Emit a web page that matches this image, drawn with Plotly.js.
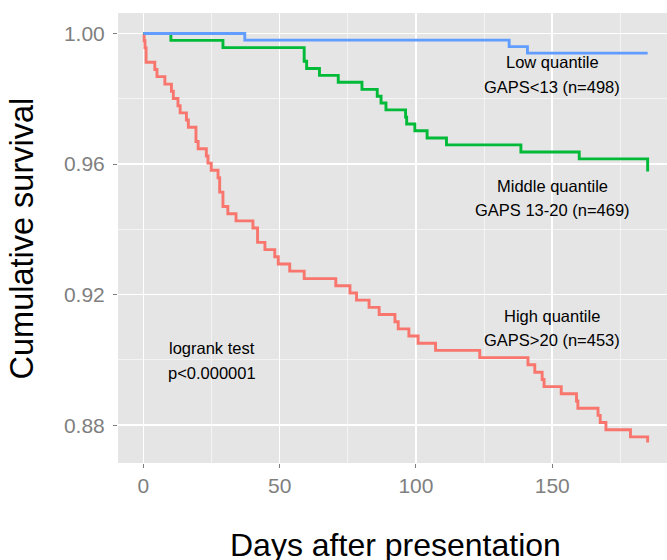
<!DOCTYPE html>
<html>
<head>
<meta charset="utf-8">
<script src="https://cdn.plot.ly/plotly-3.0.1.min.js"></script>
<style>html,body{margin:0;padding:0;background:#fff}#chart{width:667px;height:560px}</style>
</head>
<body>
<div id="chart"></div>
<script>
// High quantile GAPS>20 (n=453)
const highDays = [0, 0.3, 0.6, 1.0, 4.2, 5.0, 7.9, 10.3, 11.0, 12.7, 13.5, 15.8, 16.5,
  19.3, 20.1, 23.1, 23.7, 24.9, 27.4, 28.0, 29.2, 31.0, 34.0, 40.2,
  41.9, 44.6, 48.2, 49.5, 53.7, 59.0, 70.6, 75.8, 78.2, 82.8, 86.5,
  92.3, 93.5, 97.4, 100.8, 107.2, 123.4, 141.1, 143.6, 146.3, 147.0,
  153.3, 158.9, 159.4, 166.8, 167.6, 169.7, 178.7, 185.0];
const highSurv = [1.0, 0.9978, 0.9956, 0.9912, 0.9890, 0.9868, 0.9845, 0.9823, 0.9801, 0.9779, 0.9757, 0.9735, 0.9713,
  0.9669, 0.9647, 0.9625, 0.9603, 0.9581, 0.9558, 0.9514, 0.9470, 0.9448, 0.9426, 0.9404,
  0.9360, 0.9338, 0.9316, 0.9294, 0.9272, 0.9249, 0.9227, 0.9205, 0.9183, 0.9161, 0.9139,
  0.9117, 0.9095, 0.9073, 0.9051, 0.9029, 0.9007, 0.8985, 0.8962, 0.8940, 0.8918,
  0.8896, 0.8874, 0.8852, 0.8830, 0.8808, 0.8786, 0.8764, 0.8747];

// Middle quantile GAPS 13-20 (n=469)
const midDays = [0, 10.1, 29.2, 59.0, 59.9, 64.6, 71.5, 80.2, 85.8, 87.2, 89.0, 96.2, 96.6, 99.6, 104.1, 111.2, 138.5, 159.9, 185.0];
const midSurv = [1.0, 0.9979, 0.9957, 0.9915, 0.9893, 0.9872, 0.9851, 0.9829, 0.9808, 0.9787, 0.9766, 0.9744, 0.9723, 0.9702, 0.9680, 0.9659, 0.9637, 0.9616, 0.9577];

// Low quantile GAPS<13 (n=498)
const lowDays = [0, 37.2, 134.2, 140.9, 185.0];
const lowSurv = [1.0, 0.9980, 0.9960, 0.9940, 0.9940];

const xTickVals = [0, 50, 100, 150];
const xTickText = ['0', '50', '100', '150'];
const yTickVals = [0.88, 0.92, 0.96, 1.00];
const yTickText = ['0.88', '0.92', '0.96', '1.00'];

const FONT = 'Liberation Sans, Arial, sans-serif';

function stepTrace(x, y, color) {
  return {x: x, y: y, type: 'scatter', mode: 'lines',
    line: {shape: 'hv', color: color, width: 2.9}, hoverinfo: 'skip', showlegend: false};
}

const traces = [
  stepTrace(highDays, highSurv, '#F8766D'),
  stepTrace(midDays, midSurv, '#00BA38'),
  stepTrace(lowDays, lowSurv, '#619CFF')
];

function lab(x, y, text) {
  return {x: x, y: y, xref: 'x', yref: 'y', text: text, showarrow: false,
    xanchor: 'center', yanchor: 'middle', font: {family: FONT, size: 16.5, color: '#000'}};
}

const layout = {
  width: 667, height: 560,
  margin: {l: 118, r: 0, t: 12.7, b: 97},
  paper_bgcolor: '#ffffff',
  plot_bgcolor: '#E5E5E5',
  showlegend: false,
  xaxis: {
    range: [-9.3, 192.1], tickvals: xTickVals, ticktext: xTickText,
    showgrid: true, gridcolor: '#ffffff', gridwidth: 1.6,
    minor: {dtick: 25, tick0: 0, showgrid: true, gridcolor: '#F5F5F5', gridwidth: 0.9, ticks: ''},
    zeroline: false, showline: false,
    ticks: 'outside', ticklen: 4, tickwidth: 1, tickcolor: '#7F7F7F',
    tickfont: {family: FONT, size: 21, color: '#7F7F7F'}
  },
  yaxis: {
    range: [0.8684, 1.0063], tickvals: yTickVals, ticktext: yTickText,
    showgrid: true, gridcolor: '#ffffff', gridwidth: 1.6,
    minor: {dtick: 0.02, tick0: 0.88, showgrid: true, gridcolor: '#F5F5F5', gridwidth: 0.9, ticks: ''},
    zeroline: false, showline: false,
    ticks: 'outside', ticklen: 4, tickwidth: 1, tickcolor: '#7F7F7F',
    ticklabelstandoff: 4,
    tickfont: {family: FONT, size: 21, color: '#7F7F7F'}
  },
  annotations: [
    lab(150, 0.9913, 'Low quantile'),
    lab(150, 0.9837, 'GAPS&lt;13 (n=498)'),
    lab(150, 0.9533, 'Middle quantile'),
    lab(150, 0.9459, 'GAPS 13-20 (n=469)'),
    lab(150, 0.9135, 'High quantile'),
    lab(150, 0.9061, 'GAPS&gt;20 (n=453)'),
    lab(25, 0.9036, 'logrank test'),
    lab(25, 0.8961, 'p&lt;0.000001'),
    {xref: 'paper', yref: 'paper', x: 0.5055, y: -0.183, text: 'Days after presentation',
      showarrow: false, xanchor: 'center', yanchor: 'middle',
      font: {family: FONT, size: 32, color: '#000'}},
    {xref: 'paper', yref: 'paper', x: -0.174, y: 0.5, text: 'Cumulative survival', textangle: -90,
      showarrow: false, xanchor: 'center', yanchor: 'middle',
      font: {family: FONT, size: 32.5, color: '#000'}}
  ]
};

Plotly.newPlot('chart', traces, layout, {displayModeBar: false, staticPlot: true});
</script>
</body>
</html>
